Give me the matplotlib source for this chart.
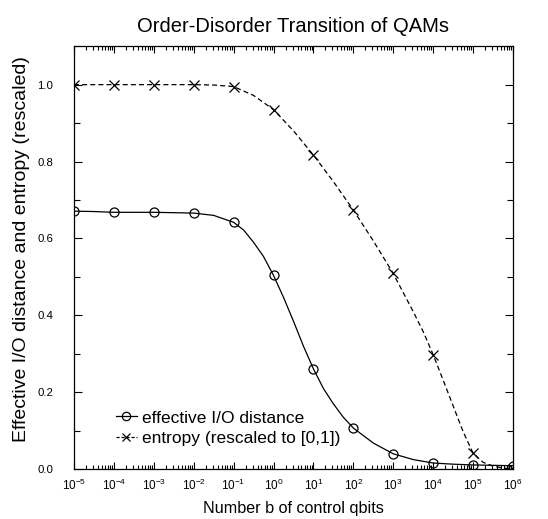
import matplotlib
matplotlib.use('Agg')
import matplotlib.pyplot as plt
import numpy as np
from matplotlib.ticker import LogLocator, MultipleLocator, NullFormatter, FormatStrFormatter

plt.rcParams['font.family'] = ['Liberation Sans', 'DejaVu Sans']
plt.rcParams['mathtext.fontset'] = 'custom'
plt.rcParams['mathtext.rm'] = 'Liberation Sans'
plt.rcParams['mathtext.it'] = 'Liberation Sans:italic'
plt.rcParams['mathtext.default'] = 'regular'

# marker values, read at each decade
b_marks = [1e-5, 1e-4, 1e-3, 1e-2, 1e-1, 1e0, 1e1, 1e2, 1e3, 1e4, 1e5, 1e6]
dist_marks = [0.671, 0.668, 0.668, 0.666, 0.642, 0.504, 0.261, 0.107, 0.040, 0.016, 0.011, 0.009]
entr_marks = [1.0, 1.0, 1.0, 1.0, 0.995, 0.935, 0.817, 0.674, 0.509, 0.298, 0.042, 0.0]

# curve values (log10 of b)
dist_logb = [-5, -4.5, -4, -3.5, -3, -2.5, -2, -1.5, -1, -0.75, -0.5, -0.25, 0, 0.25, 0.5,
             0.75, 1, 1.25, 1.5, 1.75, 2, 2.5, 3, 3.5, 4, 4.5, 5, 5.5, 6]
dist_line = [0.671, 0.670, 0.668, 0.668, 0.668, 0.667, 0.666, 0.660, 0.642, 0.622, 0.590,
             0.553, 0.504, 0.447, 0.385, 0.320, 0.261, 0.210, 0.170, 0.135, 0.107, 0.068,
             0.040, 0.025, 0.016, 0.013, 0.011, 0.010, 0.009]

entr_logb = [-5, -4, -3, -2, -1.5, -1, -0.5, 0, 0.5, 1, 1.5, 2, 2.5, 3, 3.5, 3.75, 4,
             4.25, 4.5, 4.75, 5, 5.25, 5.5, 5.75, 6]
entr_line = [1.0, 1.0, 1.0, 1.0, 0.999, 0.995, 0.972, 0.935, 0.880, 0.817, 0.748, 0.674,
             0.594, 0.509, 0.410, 0.358, 0.298, 0.232, 0.165, 0.098, 0.042, 0.018, 0.008,
             0.003, 0.0]

fig = plt.figure(figsize=(5.48, 5.19), dpi=100)
ax = fig.add_axes([0.135, 0.096, 0.801, 0.815])

ax.plot(10.0 ** np.array(dist_logb), dist_line, color='black', lw=0.9)
ax.plot(10.0 ** np.array(entr_logb), entr_line, color='black', lw=0.9, ls=(0, (4, 2.5)))
ax.plot(b_marks, dist_marks, ls='none', marker='o', ms=6.5, mfc='none', mec='black', mew=0.9)
ax.plot(b_marks, entr_marks, ls='none', marker='x', ms=6.5, mec='black', mew=0.9)

# legend proxies
ax.plot([], [], color='black', lw=0.9, marker='o', ms=6, mfc='none', mew=0.9,
        label='effective I/O distance')
ax.plot([], [], color='black', lw=0.9, ls=(0, (2.5, 1.5)), marker='x', ms=6, mew=0.9,
        label='entropy (rescaled to [0,1])')
handles, labels = ax.get_legend_handles_labels()
ax.legend(handles, labels, loc='lower left', bbox_to_anchor=(0.095, 0.055), frameon=False,
          fontsize=12.5, handlelength=1.2, handletextpad=0.3, labelspacing=0.3,
          borderpad=0, borderaxespad=0)

ax.set_xscale('log')
ax.set_xlim(1e-5, 1e6)
ax.set_ylim(0, 1.1)
ax.xaxis.set_major_locator(LogLocator(base=10, numticks=20))
ax.xaxis.set_minor_locator(LogLocator(base=10, subs=np.arange(2, 10), numticks=100))
ax.xaxis.set_minor_formatter(NullFormatter())
ax.yaxis.set_major_locator(MultipleLocator(0.2))
ax.yaxis.set_minor_locator(MultipleLocator(0.1))
ax.yaxis.set_major_formatter(FormatStrFormatter('%.1f'))

ax.tick_params(axis='both', which='both', direction='in', top=True, right=True, width=0.8)
ax.tick_params(axis='x', which='major', length=5, pad=6, labelsize=8.5)
ax.tick_params(axis='x', which='minor', length=3)
ax.tick_params(axis='y', which='major', length=6, pad=15, labelsize=8.2)
ax.tick_params(axis='y', which='minor', length=4.5)
for s in ax.spines.values():
    s.set_linewidth(0.9)

ax.set_title('Order-Disorder Transition of QAMs', fontsize=14.5, pad=10)
ax.set_xlabel('Number b of control qbits', fontsize=11.6, labelpad=6)
ax.set_ylabel('Effective I/O distance and entropy (rescaled)', fontsize=14)
ax.yaxis.set_label_coords(-0.10, 0.52)

fig.savefig('out.png', dpi=100)
